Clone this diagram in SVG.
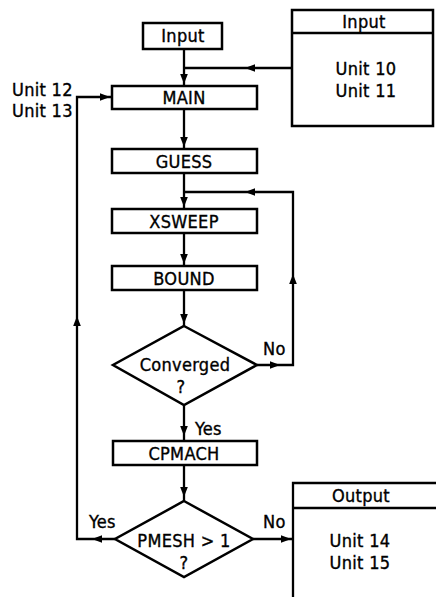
<svg xmlns="http://www.w3.org/2000/svg" xmlns:xlink="http://www.w3.org/1999/xlink" width="436" height="597" viewBox="0 0 436 597">
<style>
.box{fill:#fff;stroke:#000;stroke-width:2.5}
.ln{fill:none;stroke:#000;stroke-width:2.3}
.t,.ts{font-family:"DejaVu Sans Condensed","DejaVu Sans",sans-serif;font-size:18px;letter-spacing:0.3px;fill:#000;stroke:#000;stroke-width:0.35}
.t{text-anchor:middle}
</style>
<defs>
<polygon id="ah" points="0,0 -10,-3.8 -10,3.8" fill="#000"/>
</defs>
<rect width="436" height="597" fill="#fff"/>
<g id="connectors">
<path class="ln" d="M184,49 V86"/>
<path class="ln" d="M292,68 H184"/>
<path class="ln" d="M184,109 V149"/>
<path class="ln" d="M184,173 V209"/>
<path class="ln" d="M257,365 H293 V192 H184"/>
<path class="ln" d="M184,233 V266"/>
<path class="ln" d="M184,290 V326"/>
<path class="ln" d="M184,405 V441"/>
<path class="ln" d="M184,465 V501"/>
<path class="ln" d="M115,539 H77 V97 H112"/>
<path class="ln" d="M253,539 H293"/>
<use xlink:href="#ah" transform="translate(184,84) rotate(90)"/>
<use xlink:href="#ah" transform="translate(245,68) rotate(180)"/>
<use xlink:href="#ah" transform="translate(184,147) rotate(90)"/>
<use xlink:href="#ah" transform="translate(184,207) rotate(90)"/>
<use xlink:href="#ah" transform="translate(245,192) rotate(180)"/>
<use xlink:href="#ah" transform="translate(293,274) rotate(-90)"/>
<use xlink:href="#ah" transform="translate(280,365)"/>
<use xlink:href="#ah" transform="translate(184,264) rotate(90)"/>
<use xlink:href="#ah" transform="translate(184,324) rotate(90)"/>
<use xlink:href="#ah" transform="translate(184,436) rotate(90)"/>
<use xlink:href="#ah" transform="translate(184,497) rotate(90)"/>
<use xlink:href="#ah" transform="translate(92,539) rotate(180)"/>
<use xlink:href="#ah" transform="translate(77,316) rotate(-90)"/>
<use xlink:href="#ah" transform="translate(110,97)"/>
<use xlink:href="#ah" transform="translate(291,539)"/>
</g>
<g id="input-start">
<rect class="box" x="143" y="23" width="79" height="26"/>
<text class="t" x="183" y="42">Input</text>
</g>
<g id="input-units">
<path class="box" d="M292,10 H433 V126 H292 Z"/>
<path class="ln" d="M292,33 H433"/>
<text class="t" x="364" y="28">Input</text>
<text class="t" x="366" y="75">Unit 10</text>
<text class="t" x="366" y="97">Unit 11</text>
</g>
<g id="units-12-13">
<text class="ts" x="12" y="96">Unit 12</text>
<text class="ts" x="12" y="117">Unit 13</text>
</g>
<g id="main">
<rect class="box" x="112" y="86" width="145" height="23"/>
<text class="t" x="184" y="104">MAIN</text>
</g>
<g id="guess">
<rect class="box" x="112" y="149" width="145" height="24"/>
<text class="t" x="184" y="168">GUESS</text>
</g>
<g id="xsweep">
<rect class="box" x="112" y="209" width="145" height="24"/>
<text class="t" x="184" y="228">XSWEEP</text>
</g>
<g id="bound">
<rect class="box" x="112" y="266" width="145" height="24"/>
<text class="t" x="184" y="285">BOUND</text>
</g>
<g id="converged">
<polygon class="box" points="184,326 257,365 184,405 113,365"/>
<text class="t" x="185" y="371">Converged</text>
<text class="t" x="181" y="393">?</text>
<text class="ts" x="263" y="355">No</text>
<text class="ts" x="195" y="435">Yes</text>
</g>
<g id="cpmach">
<rect class="box" x="113" y="441" width="144" height="24"/>
<text class="t" x="184" y="460">CPMACH</text>
</g>
<g id="pmesh">
<polygon class="box" points="184,501 253,539 184,577 115,539"/>
<text class="t" x="184" y="547">PMESH &gt; 1</text>
<text class="t" x="184" y="569">?</text>
<text class="ts" x="89" y="528">Yes</text>
<text class="ts" x="263" y="528">No</text>
</g>
<g id="output">
<path class="ln" d="M436,483 H293 V597"/>
<path class="ln" d="M293,508 H436"/>
<text class="t" x="361" y="502">Output</text>
<text class="t" x="360" y="547">Unit 14</text>
<text class="t" x="360" y="569">Unit 15</text>
</g>
</svg>
